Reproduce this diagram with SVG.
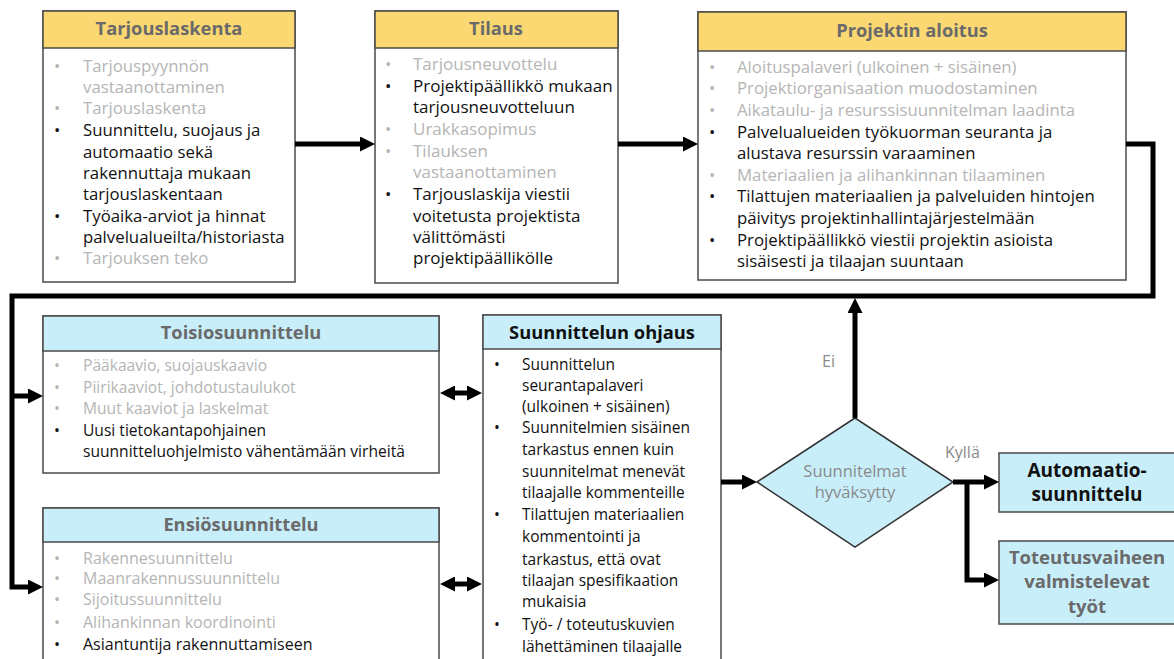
<svg xmlns="http://www.w3.org/2000/svg" width="1174" height="659" viewBox="0 0 1174 659">
  <style>
    .box { fill: #ffffff; stroke: #4a4a4a; stroke-width: 1.5; }
    .hy { fill: #fcd872; stroke: #4a4a4a; stroke-width: 1.5; }
    .hb { fill: #c8eefa; stroke: #4a4a4a; stroke-width: 1.5; }
    .ht { font-family: "Open Sans", "Liberation Sans", sans-serif; font-size: 18.3px; font-weight: bold; fill: #6a6a6a; text-anchor: middle; }
    .htk { fill: #111111; }
    .t { font-family: "Open Sans", "Liberation Sans", sans-serif; font-size: 16.8px; fill: #111111; }
    .g { fill: #b5b5b5; }
    .lbl { font-family: "Open Sans", "Liberation Sans", sans-serif; font-size: 16px; fill: #8a8a8a; }
    .dl { font-size: 16.5px; }
    .conn { fill: none; stroke: #000000; stroke-width: 5; stroke-linejoin: miter; }
    #tilaus .t { font-size: 17px; }
    #toisiosuunnittelu .t { font-size: 15.6px; }
    #ensiosuunnittelu .t { font-size: 16px; }
    #suunnittelun-ohjaus .t { font-size: 15.5px; }
    .big { font-size: 19px; }
    .big2 { font-size: 18.5px; }
  </style>
  <defs>
    <marker id="arr" viewBox="0 0 15 15" markerUnits="userSpaceOnUse" markerWidth="15" markerHeight="15" refX="0" refY="7.5" orient="auto-start-reverse">
      <path d="M0,0 L15,7.5 L0,15 z" fill="#000000"/>
    </marker>
  </defs>

  <rect width="1174" height="659" fill="#ffffff"/>

  <!-- Tarjouslaskenta -->
  <g id="tarjouslaskenta">
    <rect class="box" x="43" y="11" width="252" height="271"/>
    <rect class="hy" x="43" y="11" width="252" height="37"/>
    <text class="ht" x="169" y="35">Tarjouslaskenta</text>
    <text class="t g" x="54" y="72">•</text><text class="t g" x="83" y="72">Tarjouspyynnön</text>
    <text class="t g" x="83" y="93">vastaanottaminen</text>
    <text class="t g" x="54" y="114">•</text><text class="t g" x="83" y="114">Tarjouslaskenta</text>
    <text class="t" x="54" y="136">•</text><text class="t" x="83" y="136">Suunnittelu, suojaus ja</text>
    <text class="t" x="83" y="158">automaatio sekä</text>
    <text class="t" x="83" y="179">rakennuttaja mukaan</text>
    <text class="t" x="83" y="200">tarjouslaskentaan</text>
    <text class="t" x="54" y="222">•</text><text class="t" x="83" y="222">Työaika-arviot ja hinnat</text>
    <text class="t" x="83" y="243">palvelualueilta/historiasta</text>
    <text class="t g" x="54" y="264">•</text><text class="t g" x="83" y="264">Tarjouksen teko</text>
  </g>

  <!-- Tilaus -->
  <g id="tilaus">
    <rect class="box" x="375" y="11" width="243" height="272"/>
    <rect class="hy" x="375" y="11" width="243" height="37"/>
    <text class="ht" x="496" y="35">Tilaus</text>
    <text class="t g" x="385" y="70">•</text><text class="t g" x="413" y="70">Tarjousneuvottelu</text>
    <text class="t" x="385" y="92">•</text><text class="t" x="413" y="92">Projektipäällikkö mukaan</text>
    <text class="t" x="413" y="113">tarjousneuvotteluun</text>
    <text class="t g" x="385" y="135">•</text><text class="t g" x="413" y="135">Urakkasopimus</text>
    <text class="t g" x="385" y="157">•</text><text class="t g" x="413" y="157">Tilauksen</text>
    <text class="t g" x="413" y="178">vastaanottaminen</text>
    <text class="t" x="385" y="200">•</text><text class="t" x="413" y="200">Tarjouslaskija viestii</text>
    <text class="t" x="413" y="222">voitetusta projektista</text>
    <text class="t" x="413" y="243">välittömästi</text>
    <text class="t" x="413" y="264">projektipäällikölle</text>
  </g>

  <!-- Projektin aloitus -->
  <g id="projektin-aloitus">
    <rect class="box" x="698" y="12" width="428" height="268"/>
    <rect class="hy" x="698" y="12" width="428" height="39"/>
    <text class="ht" x="912" y="37">Projektin aloitus</text>
    <text class="t g" x="709" y="73">•</text><text class="t g" x="737" y="73">Aloituspalaveri (ulkoinen + sisäinen)</text>
    <text class="t g" x="709" y="94">•</text><text class="t g" x="737" y="94">Projektiorganisaation muodostaminen</text>
    <text class="t g" x="709" y="116">•</text><text class="t g" x="737" y="116">Aikataulu- ja resurssisuunnitelman laadinta</text>
    <text class="t" x="709" y="138">•</text><text class="t" x="737" y="138">Palvelualueiden työkuorman seuranta ja</text>
    <text class="t" x="737" y="159">alustava resurssin varaaminen</text>
    <text class="t g" x="709" y="181">•</text><text class="t g" x="737" y="181">Materiaalien ja alihankinnan tilaaminen</text>
    <text class="t" x="709" y="202">•</text><text class="t" x="737" y="202">Tilattujen materiaalien ja palveluiden hintojen</text>
    <text class="t" x="737" y="224">päivitys projektinhallintajärjestelmään</text>
    <text class="t" x="709" y="246">•</text><text class="t" x="737" y="246">Projektipäällikkö viestii projektin asioista</text>
    <text class="t" x="737" y="267">sisäisesti ja tilaajan suuntaan</text>
  </g>

  <!-- Toisiosuunnittelu -->
  <g id="toisiosuunnittelu">
    <rect class="box" x="43" y="316" width="396" height="157"/>
    <rect class="hb" x="43" y="316" width="396" height="35"/>
    <text class="ht" x="241" y="339">Toisiosuunnittelu</text>
    <text class="t g" x="54" y="371">•</text><text class="t g" x="83" y="371">Pääkaavio, suojauskaavio</text>
    <text class="t g" x="54" y="393">•</text><text class="t g" x="83" y="393">Piirikaaviot, johdotustaulukot</text>
    <text class="t g" x="54" y="414">•</text><text class="t g" x="83" y="414">Muut kaaviot ja laskelmat</text>
    <text class="t" x="54" y="436">•</text><text class="t" x="83" y="436">Uusi tietokantapohjainen</text>
    <text class="t" x="83" y="457">suunnitteluohjelmisto vähentämään virheitä</text>
  </g>

  <!-- Ensiösuunnittelu -->
  <g id="ensiosuunnittelu">
    <rect class="box" x="43" y="508" width="396" height="170"/>
    <rect class="hb" x="43" y="508" width="396" height="34"/>
    <text class="ht" x="241" y="531">Ensiösuunnittelu</text>
    <text class="t g" x="54" y="564">•</text><text class="t g" x="83" y="564">Rakennesuunnittelu</text>
    <text class="t g" x="54" y="584">•</text><text class="t g" x="83" y="584">Maanrakennussuunnittelu</text>
    <text class="t g" x="54" y="605">•</text><text class="t g" x="83" y="605">Sijoitussuunnittelu</text>
    <text class="t g" x="54" y="628">•</text><text class="t g" x="83" y="628">Alihankinnan koordinointi</text>
    <text class="t" x="54" y="650">•</text><text class="t" x="83" y="650">Asiantuntija rakennuttamiseen</text>
  </g>

  <!-- Suunnittelun ohjaus -->
  <g id="suunnittelun-ohjaus">
    <rect class="box" x="483" y="315" width="238" height="363"/>
    <rect class="hb" x="483" y="315" width="238" height="34"/>
    <text class="ht htk" x="602" y="339">Suunnittelun ohjaus</text>
    <text class="t" x="494" y="370">•</text><text class="t" x="522" y="370">Suunnittelun</text>
    <text class="t" x="522" y="391">seurantapalaveri</text>
    <text class="t" x="522" y="412">(ulkoinen + sisäinen)</text>
    <text class="t" x="494" y="433">•</text><text class="t" x="522" y="433">Suunnitelmien sisäinen</text>
    <text class="t" x="522" y="455">tarkastus ennen kuin</text>
    <text class="t" x="522" y="477">suunnitelmat menevät</text>
    <text class="t" x="522" y="498">tilaajalle kommenteille</text>
    <text class="t" x="494" y="520">•</text><text class="t" x="522" y="520">Tilattujen materiaalien</text>
    <text class="t" x="522" y="542">kommentointi ja</text>
    <text class="t" x="522" y="565">tarkastus, että ovat</text>
    <text class="t" x="522" y="586">tilaajan spesifikaation</text>
    <text class="t" x="522" y="607">mukaisia</text>
    <text class="t" x="494" y="630">•</text><text class="t" x="522" y="630">Työ- / toteutuskuvien</text>
    <text class="t" x="522" y="652">lähettäminen tilaajalle</text>
  </g>

  <!-- Decision -->
  <g id="suunnitelmat-hyvaksytty">
    <polygon points="757,482 855,418 953,482 855,547" fill="#c8eefa" stroke="#333333" stroke-width="1.5"/>
    <text class="lbl dl" x="855" y="477" text-anchor="middle">Suunnitelmat</text>
    <text class="lbl dl" x="855" y="498" text-anchor="middle">hyväksytty</text>
  </g>

  <!-- Automaatiosuunnittelu -->
  <g id="automaatiosuunnittelu">
    <rect x="999" y="453" width="176" height="59" fill="#c8eefa" stroke="#4a4a4a" stroke-width="1.5"/>
    <text class="ht htk big" x="1087" y="477">Automaatio-</text>
    <text class="ht htk big" x="1087" y="501">suunnittelu</text>
  </g>

  <!-- Toteutusvaiheen valmistelevat työt -->
  <g id="toteutusvaihe">
    <rect x="999" y="541" width="176" height="83" fill="#c8eefa" stroke="#4a4a4a" stroke-width="1.5"/>
    <text class="ht big2" x="1087" y="564">Toteutusvaiheen</text>
    <text class="ht big2" x="1087" y="588">valmistelevat</text>
    <text class="ht big2" x="1087" y="613">työt</text>
  </g>

  <!-- Connectors -->
  <g id="connectors">
    <path class="conn" d="M295,144 H360" marker-end="url(#arr)"/>
    <path class="conn" d="M618,144 H683" marker-end="url(#arr)"/>
    <path class="conn" d="M1126,144 H1153 V296 H12 V587 H28" marker-end="url(#arr)"/>
    <path class="conn" d="M12,396 H28" marker-end="url(#arr)"/>
    <path class="conn" d="M455,393 H467" marker-start="url(#arr)" marker-end="url(#arr)"/>
    <path class="conn" d="M455,584 H467" marker-start="url(#arr)" marker-end="url(#arr)"/>
    <path class="conn" d="M721,482 H742" marker-end="url(#arr)"/>
    <path class="conn" d="M855,418 V313" marker-end="url(#arr)"/>
    <path class="conn" d="M953,482 H984" marker-end="url(#arr)"/>
    <path class="conn" d="M967,482 V580 H984" marker-end="url(#arr)"/>
    <text class="lbl" x="822" y="367">Ei</text>
    <text class="lbl" x="945" y="458">Kyllä</text>
  </g>
</svg>
